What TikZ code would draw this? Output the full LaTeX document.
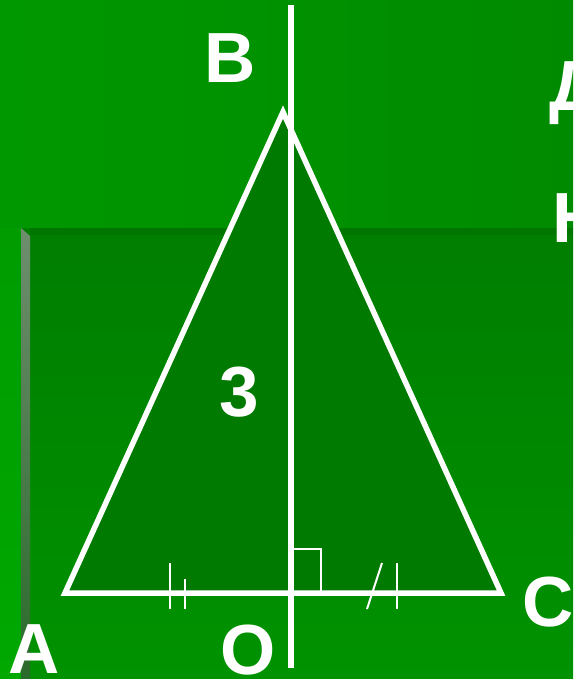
\documentclass[tikz,border=0pt]{standalone}
\usepackage{fontspec}
\setmainfont{Liberation Sans}
\begin{document}
\begin{tikzpicture}[x=1pt,y=-1pt,
  lbl/.style={text=white,font=\fontsize{71}{71}\selectfont\bfseries,inner sep=0pt,anchor=base},
  edge/.style={draw=white,line width=5.5pt},
  thin/.style={draw=white,line width=2pt}]
\definecolor{bgtop}{HTML}{008A00}
\definecolor{bgleft}{HTML}{009800}
\definecolor{striptop}{HTML}{009C00}
\definecolor{stripbot}{HTML}{00A800}
\definecolor{paneltop}{HTML}{007E00}
\definecolor{panelbot}{HTML}{009200}
\definecolor{panelband}{HTML}{007600}
\definecolor{bevtop}{HTML}{6E8E6E}
\definecolor{bevbot}{HTML}{2A6A2A}
\definecolor{trifill}{HTML}{007A00}
\useasboundingbox (0,0) rectangle (573,679);
\clip (0,0) rectangle (573,679);
% background
\shade[left color=bgleft,right color=bgtop] (0,0) rectangle (573,228);
\shade[top color=striptop,bottom color=stripbot] (0,228) rectangle (21,679);
% panel
\shade[top color=paneltop,bottom color=panelbot] (21,228) rectangle (573,679);
\fill[panelband] (30,228) rectangle (573,235);
\shade[top color=bevtop,bottom color=bevbot] (21,228) -- (30,236) -- (30,679) -- (21,679) -- cycle;
% triangle
\coordinate (A) at (65,593);
\coordinate (B) at (283,112);
\coordinate (C) at (501,593);
\coordinate (O) at (291,593);
\coordinate (T) at (291,5);
\coordinate (Bot) at (291,668);
\fill[trifill] (A) -- (B) -- (C) -- cycle;
\draw[edge] (A) -- (B) -- (C) -- cycle;
\draw[white,line width=6pt] (T) -- (Bot);
% right angle mark
\coordinate (R1) at (292,549);
\coordinate (R2) at (321,593);
\draw[thin] (O |- R1) -- (R2 |- R1) -- (R2);
% tick marks
\coordinate (t1a) at (170,563); \coordinate (t1b) at (170,609);
\coordinate (t2a) at (185,579); \coordinate (t2b) at (185,609);
\coordinate (t3a) at (367,609); \coordinate (t3b) at (382,563);
\coordinate (t4a) at (397,563); \coordinate (t4b) at (397,609);
\draw[thin] (t1a) -- (t1b);
\draw[thin] (t2a) -- (t2b);
\draw[thin] (t3a) -- (t3b);
\draw[thin] (t4a) -- (t4b);
% labels
\node[lbl] (lB) at (230,83) {B};
\node[lbl] (lA) at (34,673) {A};
\node[lbl] (lO) at (248,674) {O};
\node[lbl] (lC) at (548,626) {C};
\node[lbl] (l3) at (239,416) {3};
\node[lbl,anchor=base west] (lD) at (549,111) {Д};
\node[lbl,anchor=base west] (lH) at (552,242) {Н};
\end{tikzpicture}
\end{document}
